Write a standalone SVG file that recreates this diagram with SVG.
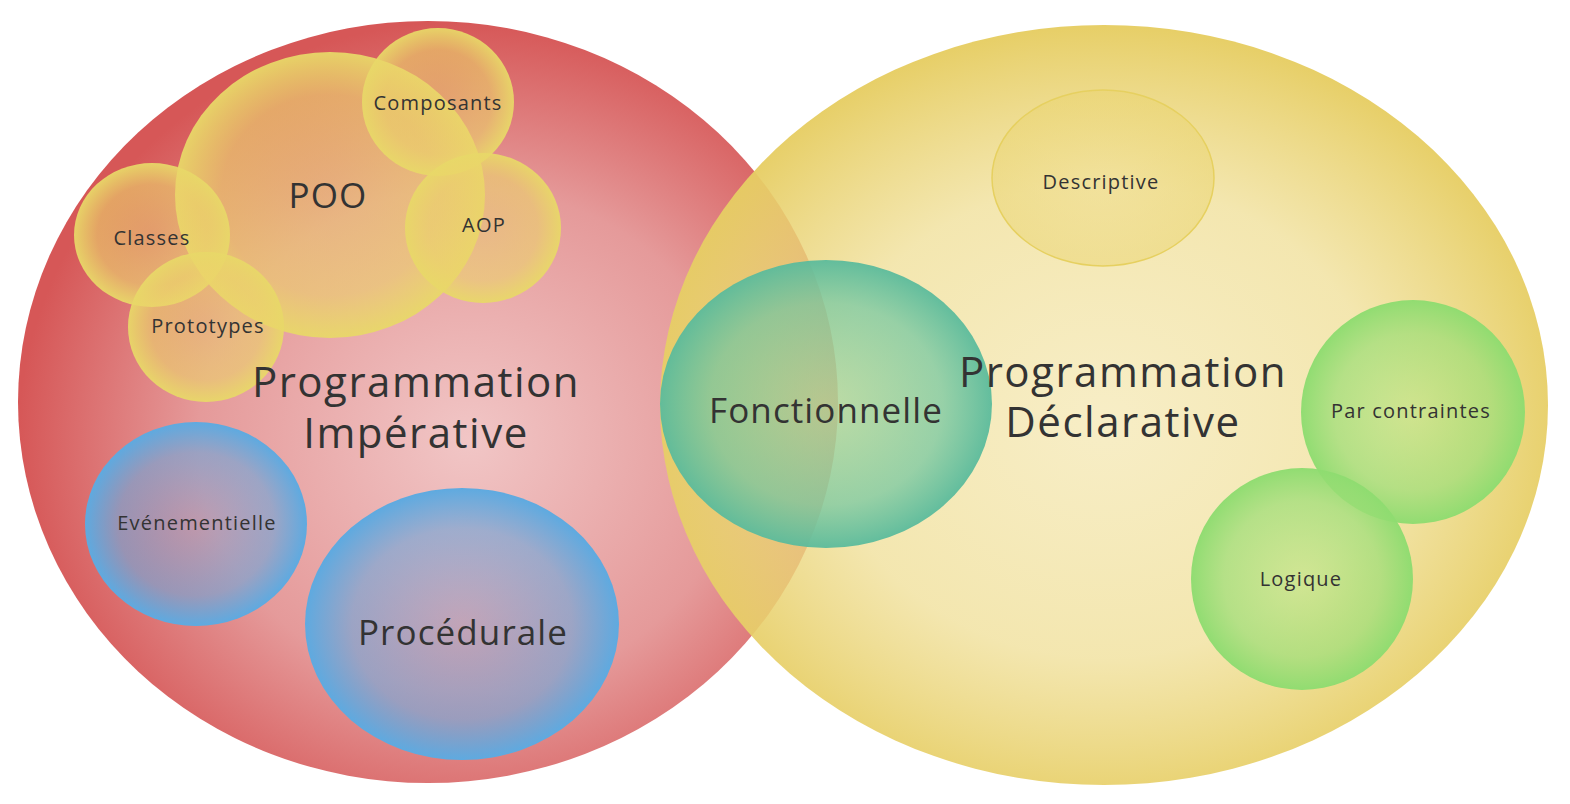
<svg xmlns="http://www.w3.org/2000/svg" width="1570" height="804" viewBox="0 0 1570 804">
  <defs>
    <radialGradient id="gRed" cx="0.55" cy="0.55" r="0.55">
      <stop offset="0" stop-color="#f1c6c6"/>
      <stop offset="0.6" stop-color="#e59a9a"/>
      <stop offset="1" stop-color="#d65757"/>
    </radialGradient>
    <radialGradient id="gYellow" cx="0.5" cy="0.52" r="0.52">
      <stop offset="0" stop-color="#f2e2a0" stop-opacity="0.6"/>
      <stop offset="0.6" stop-color="#eedb8a" stop-opacity="0.68"/>
      <stop offset="1" stop-color="#e6cd62" stop-opacity="0.97"/>
    </radialGradient>
    <radialGradient id="gBubble" cx="0.5" cy="0.5" r="0.5">
      <stop offset="0" stop-color="#ecd36a" stop-opacity="0.45"/>
      <stop offset="0.7" stop-color="#ecd36a" stop-opacity="0.6"/>
      <stop offset="1" stop-color="#e8d868" stop-opacity="0.95"/>
    </radialGradient>
    <radialGradient id="gBlue" cx="0.5" cy="0.5" r="0.5">
      <stop offset="0" stop-color="#7aa0d8" stop-opacity="0.35"/>
      <stop offset="0.7" stop-color="#6aa6dc" stop-opacity="0.6"/>
      <stop offset="1" stop-color="#5eaae0" stop-opacity="1"/>
    </radialGradient>
    <radialGradient id="gTeal" cx="0.5" cy="0.5" r="0.5">
      <stop offset="0" stop-color="#86d09a" stop-opacity="0.5"/>
      <stop offset="0.7" stop-color="#6fc6a0" stop-opacity="0.7"/>
      <stop offset="1" stop-color="#5bbb9c" stop-opacity="0.95"/>
    </radialGradient>
    <radialGradient id="gGreen" cx="0.5" cy="0.5" r="0.5">
      <stop offset="0" stop-color="#b4e47c" stop-opacity="0.55"/>
      <stop offset="0.7" stop-color="#a0de78" stop-opacity="0.75"/>
      <stop offset="1" stop-color="#8edc70" stop-opacity="0.97"/>
    </radialGradient>
    <radialGradient id="gDesc" cx="0.5" cy="0.5" r="0.5">
      <stop offset="0" stop-color="#eed878" stop-opacity="0.35"/>
      <stop offset="1" stop-color="#ead46e" stop-opacity="0.5"/>
    </radialGradient>
  </defs>
  <style>
    text { font-family: "Open Sans", "Liberation Sans", sans-serif; fill: #333333; text-anchor: middle; }
    .big { font-size: 42px; letter-spacing: 1.5px; }
    .mid { font-size: 35px; letter-spacing: 1.1px; }
    .small { font-size: 20px; letter-spacing: 1.2px; }
  </style>

  <!-- main paradigms -->
  <g id="imperative">
    <ellipse cx="428" cy="402" rx="410" ry="381" fill="url(#gRed)"/>
  </g>
  <g id="declarative">
    <ellipse cx="1104" cy="405" rx="444" ry="380" fill="url(#gYellow)"/>
  </g>

  <!-- object oriented cluster -->
  <g id="poo">
    <ellipse cx="330" cy="195" rx="155" ry="143" fill="url(#gBubble)"/>
  </g>
  <g id="composants">
    <ellipse cx="438" cy="102" rx="76" ry="74" fill="url(#gBubble)"/>
  </g>
  <g id="aop">
    <ellipse cx="483" cy="228" rx="78" ry="75" fill="url(#gBubble)"/>
  </g>
  <g id="classes">
    <ellipse cx="152" cy="235" rx="78" ry="72" fill="url(#gBubble)"/>
  </g>
  <g id="prototypes">
    <ellipse cx="206" cy="327" rx="78" ry="75" fill="url(#gBubble)"/>
  </g>

  <g id="evenementielle">
    <ellipse cx="196" cy="524" rx="111" ry="102" fill="url(#gBlue)"/>
  </g>
  <g id="procedurale">
    <ellipse cx="462" cy="624" rx="157" ry="136" fill="url(#gBlue)"/>
  </g>

  <g id="descriptive">
    <ellipse cx="1103" cy="178" rx="111" ry="88" fill="url(#gDesc)" stroke="#e6d060" stroke-width="1.5"/>
  </g>
  <g id="contraintes">
    <circle cx="1413" cy="412" r="112" fill="url(#gGreen)"/>
  </g>
  <g id="logique">
    <circle cx="1302" cy="579" r="111" fill="url(#gGreen)"/>
  </g>

  <g id="fonctionnelle">
    <ellipse cx="826" cy="404" rx="166" ry="144" fill="url(#gTeal)"/>
  </g>

  <!-- labels -->
  <g id="labels">
    <text class="big" y="397"><tspan x="416">Programmation</tspan><tspan x="416" dy="51">Impérative</tspan></text>
    <text class="big" y="387"><tspan x="1123">Programmation</tspan><tspan x="1123" dy="50">Déclarative</tspan></text>
    <text class="mid" x="826" y="423">Fonctionnelle</text>
    <text class="mid" x="463" y="645">Procédurale</text>
    <text class="mid" x="328" y="208">POO</text>
    <text class="small" x="438" y="110">Composants</text>
    <text class="small" x="484" y="232">AOP</text>
    <text class="small" x="152" y="245">Classes</text>
    <text class="small" x="208" y="333">Prototypes</text>
    <text class="small" x="197" y="530">Evénementielle</text>
    <text class="small" x="1101" y="189">Descriptive</text>
    <text class="small" x="1411" y="418">Par contraintes</text>
    <text class="small" x="1301" y="586">Logique</text>
  </g>
</svg>
